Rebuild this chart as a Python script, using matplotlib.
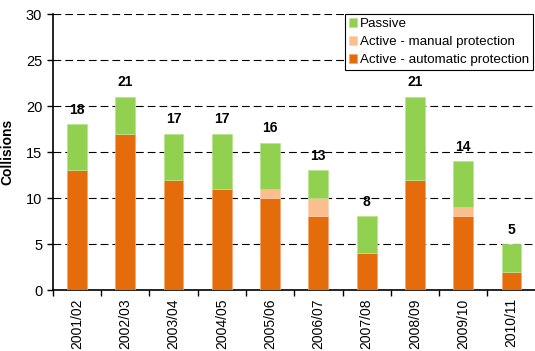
import matplotlib
matplotlib.use("Agg")
import matplotlib.pyplot as plt
import numpy as np

seasons = ["2001/02", "2002/03", "2003/04", "2004/05", "2005/06",
           "2006/07", "2007/08", "2008/09", "2009/10", "2010/11"]
automatic = [13, 17, 12, 11, 10, 8, 4, 12, 8, 2]
manual = [0, 0, 0, 0, 1, 2, 0, 0, 1, 0]
passive = [5, 4, 5, 6, 5, 3, 4, 9, 5, 3]
y_ticks = [0, 5, 10, 15, 20, 25, 30]

c_auto = "#E46C0A"
c_manual = "#FBBF8F"
c_passive = "#92D050"

plt.rcParams["font.family"] = ["Liberation Sans", "DejaVu Sans"]

fig = plt.figure(figsize=(5.35, 3.51), dpi=100)
ax = fig.add_axes([52.7 / 535, 1 - 290 / 351, (535.7 - 52.7) / 535, (290 - 14) / 351])

x = np.arange(len(seasons))
w = 0.41
auto = np.array(automatic)
man = np.array(manual)
pas = np.array(passive)

ax.bar(x, auto, w, color=c_auto, edgecolor="#F4A46A", linewidth=0.5,
       label="Active - automatic protection", zorder=3)
ax.bar(x, man, w, bottom=auto, color=c_manual, edgecolor="#FCD3B2", linewidth=0.5,
       label="Active - manual protection", zorder=3)
ax.bar(x, pas, w, bottom=auto + man, color=c_passive, edgecolor="#B8E38E", linewidth=0.5,
       label="Passive", zorder=3)

totals = auto + man + pas
for xi, t in zip(x, totals):
    ax.text(xi, t + 0.8, str(t), ha="center", va="bottom",
            fontsize=10, fontweight="bold")

ax.set_xlim(-0.5, len(seasons) - 0.5)
ax.set_ylim(0, 30)
ax.set_yticks(y_ticks)
ax.tick_params(axis="y", labelsize=10.5, length=4, width=1, direction="out")
ax.set_xticks(x)
ax.set_xticklabels(seasons, rotation=90, fontsize=10)
ax.tick_params(axis="x", length=0, pad=6)
ax.set_xticks(np.arange(-0.5, len(seasons), 1.0), minor=True)
ax.tick_params(axis="x", which="minor", length=4, width=1, direction="out")

ax.grid(axis="y", linestyle=(0, (7, 3.6)), color="black", linewidth=0.8, zorder=0)
for s in ["top", "right"]:
    ax.spines[s].set_visible(False)
for s in ["left", "bottom"]:
    ax.spines[s].set_linewidth(1.2)

ax.set_ylabel("Collisions", fontsize=10, fontweight="bold", labelpad=8)

handles, labels = ax.get_legend_handles_labels()
leg = ax.legend(handles[::-1], labels[::-1], loc="upper right",
                bbox_to_anchor=(0.995, 1.0), fontsize=9.6, frameon=True,
                fancybox=False, edgecolor="black", framealpha=1,
                handlelength=0.65, handleheight=0.65, handletextpad=0.2,
                borderpad=0.3, labelspacing=0.45, borderaxespad=0.0)
leg.get_frame().set_linewidth(0.8)
leg.set_zorder(5)

fig.savefig("out.png", dpi=100)
